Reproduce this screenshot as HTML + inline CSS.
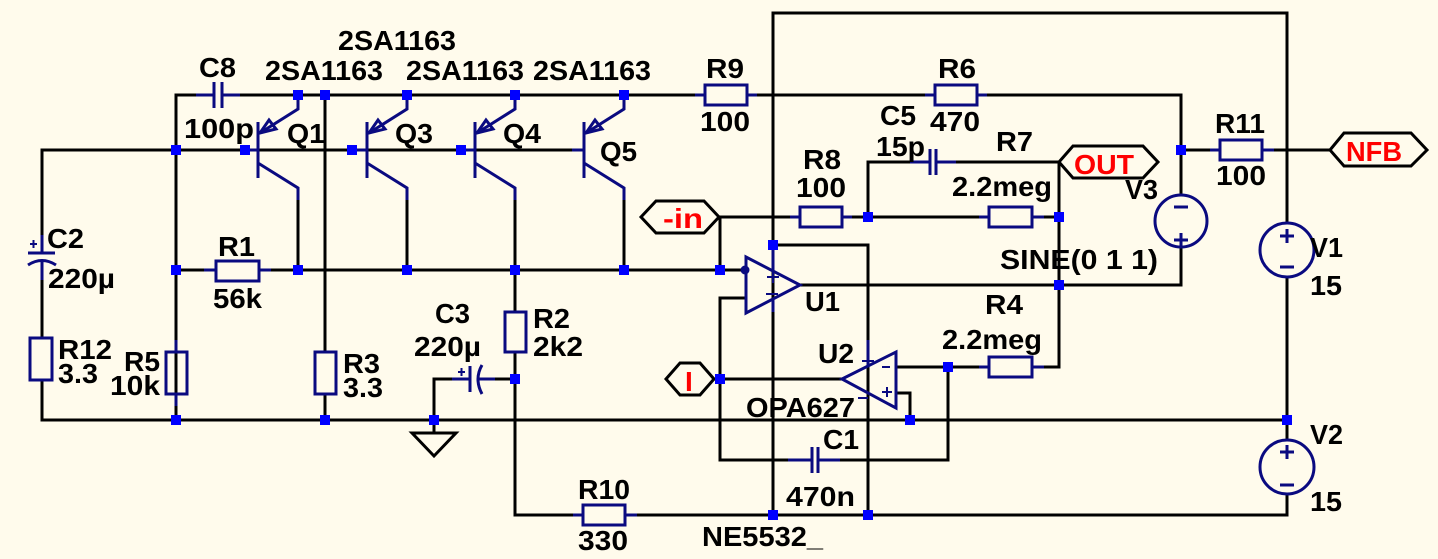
<!DOCTYPE html>
<html><head><meta charset="utf-8"><style>
html,body{margin:0;padding:0;background:#fffbec;}
svg{display:block;}
text{font-family:"Liberation Sans",Arial,sans-serif;font-weight:bold;font-size:28px;fill:#000;}
.r{fill:#ff0000;}
</style></head><body>
<svg width="1438" height="559" viewBox="0 0 1438 559" xmlns="http://www.w3.org/2000/svg">
<rect width="1438" height="559" fill="#fffbec"/>
<g stroke="#000" stroke-width="3" fill="none" stroke-linecap="square">
<polyline points="176,420 176,95 204,95"/>
<polyline points="232,95 705,95"/>
<polyline points="747,95 935,95"/>
<polyline points="977,95 1181,95 1181,195"/>
<polyline points="1181,248 1181,285 800,285"/>
<line x1="1181" y1="150" x2="1219" y2="150"/>
<line x1="1262" y1="150" x2="1330" y2="150"/>
<polyline points="42,235 42,150 572,150"/>
<line x1="42" y1="268" x2="42" y2="338"/>
<polyline points="42,380 42,420 1287,420"/>
<line x1="176" y1="270" x2="204" y2="270"/>
<line x1="270" y1="270" x2="745" y2="270"/>
<line x1="298" y1="200" x2="298" y2="270"/>
<line x1="407" y1="200" x2="407" y2="270"/>
<line x1="515" y1="200" x2="515" y2="312"/>
<line x1="624" y1="200" x2="624" y2="270"/>
<line x1="176" y1="270" x2="176" y2="352"/>
<line x1="325" y1="95" x2="325" y2="352"/>
<line x1="325" y1="394" x2="325" y2="420"/>
<polyline points="515,352 515,515 583,515"/>
<line x1="625" y1="515" x2="1287" y2="515"/>
<polyline points="434,433 434,379 462,379"/>
<line x1="488" y1="379" x2="515" y2="379"/>
<polyline points="773,515 773,13 1287,13 1287,222"/>
<line x1="1287" y1="278" x2="1287" y2="440"/>
<line x1="1287" y1="494" x2="1287" y2="515"/>
<polyline points="773,245 868,245 868,515"/>
<polyline points="719,217 797,217"/>
<line x1="720" y1="217" x2="720" y2="270"/>
<line x1="842" y1="217" x2="989" y2="217"/>
<line x1="1032" y1="217" x2="1059" y2="217"/>
<polyline points="868,217 868,162 924,162"/>
<line x1="942" y1="162" x2="1059" y2="162"/>
<line x1="1059" y1="162" x2="1059" y2="367"/>
<line x1="1032" y1="367" x2="1059" y2="367"/>
<line x1="896" y1="367" x2="989" y2="367"/>
<polyline points="745,298 720,298 720,460 806,460"/>
<polyline points="824,460 948,460 948,367"/>
<line x1="714" y1="379" x2="842" y2="379"/>
<polyline points="896,393 910,393 910,420"/>
</g>
<g stroke="#0a0a80" stroke-width="3" fill="none">
<line x1="196" y1="95" x2="214" y2="95"/><line x1="222" y1="95" x2="240" y2="95"/>
<line x1="214" y1="82" x2="214" y2="108"/><line x1="222" y1="82" x2="222" y2="108"/>
<g id="q">
<line x1="246" y1="150" x2="258" y2="150"/>
<line x1="258" y1="122" x2="258" y2="178"/>
<polyline points="298,95 298,109 260,133"/>
<polygon points="260,133 269,120 276,129"/>
<polyline points="258,163 298,188 298,200"/>
</g>
<use href="#q" x="109"/><use href="#q" x="217"/><use href="#q" x="326"/>
<rect x="705" y="85" width="42" height="20"/><line x1="695" y1="95" x2="705" y2="95"/><line x1="747" y1="95" x2="757" y2="95"/>
<rect x="935" y="85" width="42" height="20"/><line x1="925" y1="95" x2="935" y2="95"/><line x1="977" y1="95" x2="987" y2="95"/>
<rect x="1220" y="140" width="42" height="20"/><line x1="1210" y1="150" x2="1220" y2="150"/><line x1="1262" y1="150" x2="1274" y2="150"/>
<rect x="800" y="207" width="42" height="20"/><line x1="790" y1="217" x2="800" y2="217"/><line x1="842" y1="217" x2="852" y2="217"/>
<rect x="989" y="207" width="43" height="20"/><line x1="979" y1="217" x2="989" y2="217"/><line x1="1032" y1="217" x2="1044" y2="217"/>
<rect x="989" y="357" width="43" height="20"/><line x1="979" y1="367" x2="989" y2="367"/><line x1="1032" y1="367" x2="1044" y2="367"/>
<rect x="216" y="261" width="43" height="20"/><line x1="204" y1="270" x2="216" y2="270"/><line x1="259" y1="270" x2="271" y2="270"/>
<rect x="583" y="505" width="42" height="20"/><line x1="573" y1="515" x2="583" y2="515"/><line x1="625" y1="515" x2="637" y2="515"/>
<rect x="30" y="338" width="22" height="42"/>
<rect x="166" y="352" width="21" height="42"/><line x1="176" y1="340" x2="176" y2="352"/><line x1="176" y1="394" x2="176" y2="406"/>
<rect x="315" y="352" width="21" height="42"/>
<rect x="505" y="312" width="21" height="40"/>
<line x1="28" y1="253" x2="55" y2="253"/><path d="M28,265 Q42,256 56,265"/><line x1="42" y1="235" x2="42" y2="253"/><line x1="42" y1="260" x2="42" y2="280"/>
<line x1="30" y1="244" x2="37" y2="244" stroke-width="2"/><line x1="33.5" y1="240" x2="33.5" y2="248" stroke-width="2"/>
<line x1="470" y1="366" x2="470" y2="392"/><path d="M482,365 Q474,379 482,394"/><line x1="452" y1="379" x2="470" y2="379"/><line x1="478" y1="379" x2="495" y2="379"/>
<line x1="458" y1="372" x2="465" y2="372" stroke-width="2"/><line x1="461.5" y1="368" x2="461.5" y2="376" stroke-width="2"/>
<line x1="910" y1="162" x2="930" y2="162"/><line x1="936" y1="162" x2="956" y2="162"/>
<line x1="930" y1="149" x2="930" y2="175"/><line x1="936" y1="149" x2="936" y2="175"/>
<line x1="788" y1="460" x2="812" y2="460"/><line x1="818" y1="460" x2="840" y2="460"/>
<line x1="812" y1="447" x2="812" y2="473"/><line x1="818" y1="447" x2="818" y2="473"/>
<polygon points="746,257 746,313 800,285"/>
<line x1="773" y1="244" x2="773" y2="272"/><line x1="773" y1="298" x2="773" y2="312"/>
<line x1="767" y1="277" x2="779" y2="277" stroke-width="2"/><line x1="773" y1="271" x2="773" y2="283" stroke-width="2"/>
<line x1="766" y1="294" x2="778" y2="294" stroke-width="2"/>
<circle cx="745" cy="270" r="3" fill="#0a0a80"/>
<polygon points="842,379 896,352 896,408"/>
<line x1="868" y1="340" x2="868" y2="366"/>
<line x1="862" y1="361" x2="874" y2="361" stroke-width="2"/><line x1="868" y1="355" x2="868" y2="367" stroke-width="2"/>
<line x1="858" y1="398" x2="868" y2="398" stroke-width="2"/>
<line x1="882" y1="367" x2="890" y2="367" stroke-width="2"/>
<line x1="882" y1="392" x2="892" y2="392" stroke-width="2"/><line x1="887" y1="387" x2="887" y2="397" stroke-width="2"/>
<circle cx="1181" cy="221" r="26"/>
<line x1="1174" y1="207" x2="1188" y2="207"/>
<line x1="1174" y1="240" x2="1188" y2="240"/><line x1="1181" y1="233" x2="1181" y2="247"/>
<circle cx="1287" cy="250" r="27"/>
<line x1="1280" y1="236" x2="1294" y2="236"/><line x1="1287" y1="229" x2="1287" y2="243"/>
<line x1="1280" y1="267" x2="1294" y2="267"/>
<circle cx="1287" cy="467" r="27"/>
<line x1="1280" y1="452" x2="1294" y2="452"/><line x1="1287" y1="445" x2="1287" y2="459"/>
<line x1="1280" y1="485" x2="1294" y2="485"/>
</g>
<polygon points="412,433 456,433 434,456" fill="none" stroke="#000" stroke-width="3"/>
<g fill="#fffbec" stroke="#000" stroke-width="3">
<polygon points="641,217 656,201 704,201 719,217 704,233 656,233"/>
<polygon points="666,379 680,363 700,363 714,379 700,395 680,395"/>
<polygon points="1059,162 1073,146 1143,146 1158,162 1143,178 1073,178"/>
<polygon points="1330,150 1344,133 1411,133 1427,150 1411,166 1344,166"/>
</g>
<g fill="#0000ff">
<rect x="171" y="145" width="10" height="10"/><rect x="240" y="145" width="10" height="10"/><rect x="347" y="145" width="10" height="10"/><rect x="456" y="145" width="10" height="10"/>
<rect x="293" y="90" width="10" height="10"/><rect x="320" y="90" width="10" height="10"/><rect x="402" y="90" width="10" height="10"/><rect x="510" y="90" width="10" height="10"/><rect x="619" y="90" width="10" height="10"/>
<rect x="171" y="265" width="10" height="10"/><rect x="293" y="265" width="10" height="10"/><rect x="402" y="265" width="10" height="10"/><rect x="510" y="265" width="10" height="10"/><rect x="619" y="265" width="10" height="10"/><rect x="715" y="265" width="10" height="10"/>
<rect x="171" y="415" width="10" height="10"/><rect x="320" y="415" width="10" height="10"/><rect x="429" y="415" width="10" height="10"/><rect x="510" y="374" width="10" height="10"/>
<rect x="905" y="415" width="10" height="10"/><rect x="1282" y="415" width="10" height="10"/>
<rect x="768" y="240" width="10" height="10"/><rect x="863" y="212" width="10" height="10"/><rect x="1054" y="212" width="10" height="10"/><rect x="1054" y="280" width="10" height="10"/>
<rect x="1176" y="145" width="10" height="10"/><rect x="715" y="374" width="10" height="10"/><rect x="943" y="362" width="10" height="10"/>
<rect x="768" y="510" width="10" height="10"/><rect x="863" y="510" width="10" height="10"/>
</g>
<text x="199" y="77" textLength="37" lengthAdjust="spacingAndGlyphs">C8</text>
<text x="184" y="138" textLength="70" lengthAdjust="spacingAndGlyphs">100p</text>
<text x="338" y="50" textLength="118" lengthAdjust="spacingAndGlyphs">2SA1163</text>
<text x="265" y="80" textLength="118" lengthAdjust="spacingAndGlyphs">2SA1163</text>
<text x="406" y="80" textLength="118" lengthAdjust="spacingAndGlyphs">2SA1163</text>
<text x="533" y="80" textLength="118" lengthAdjust="spacingAndGlyphs">2SA1163</text>
<text x="287" y="143" textLength="38" lengthAdjust="spacingAndGlyphs">Q1</text><text x="395" y="143" textLength="38" lengthAdjust="spacingAndGlyphs">Q3</text><text x="503" y="143" textLength="38" lengthAdjust="spacingAndGlyphs">Q4</text><text x="600" y="161" textLength="37" lengthAdjust="spacingAndGlyphs">Q5</text>
<text x="706" y="78" textLength="38" lengthAdjust="spacingAndGlyphs">R9</text><text x="700" y="131" textLength="50" lengthAdjust="spacingAndGlyphs">100</text>
<text x="938" y="78" textLength="38" lengthAdjust="spacingAndGlyphs">R6</text><text x="930" y="131" textLength="50" lengthAdjust="spacingAndGlyphs">470</text>
<text x="880" y="125" textLength="36" lengthAdjust="spacingAndGlyphs">C5</text><text x="876" y="156" textLength="49" lengthAdjust="spacingAndGlyphs">15p</text>
<text x="996" y="151" textLength="37" lengthAdjust="spacingAndGlyphs">R7</text>
<text x="803" y="169" textLength="38" lengthAdjust="spacingAndGlyphs">R8</text><text x="796" y="197" textLength="50" lengthAdjust="spacingAndGlyphs">100</text>
<text x="952" y="196" textLength="100" lengthAdjust="spacingAndGlyphs">2.2meg</text>
<text x="1215" y="133" textLength="50" lengthAdjust="spacingAndGlyphs">R11</text><text x="1216" y="185" textLength="50" lengthAdjust="spacingAndGlyphs">100</text>
<text x="1125" y="199" textLength="33" lengthAdjust="spacingAndGlyphs">V3</text>
<text x="1000" y="269" textLength="158" lengthAdjust="spacingAndGlyphs">SINE(0 1 1)</text>
<text x="1310" y="257" textLength="33" lengthAdjust="spacingAndGlyphs">V1</text><text x="1310" y="295" textLength="32" lengthAdjust="spacingAndGlyphs">15</text>
<text x="1310" y="444" textLength="33" lengthAdjust="spacingAndGlyphs">V2</text><text x="1310" y="511" textLength="32" lengthAdjust="spacingAndGlyphs">15</text>
<text x="47" y="248" textLength="37" lengthAdjust="spacingAndGlyphs">C2</text><text x="48" y="288" textLength="67" lengthAdjust="spacingAndGlyphs">220µ</text>
<text x="218" y="256" textLength="37" lengthAdjust="spacingAndGlyphs">R1</text><text x="213" y="308" textLength="49" lengthAdjust="spacingAndGlyphs">56k</text>
<text x="58" y="359" textLength="54" lengthAdjust="spacingAndGlyphs">R12</text><text x="58" y="383" textLength="40" lengthAdjust="spacingAndGlyphs">3.3</text>
<text x="124" y="371" textLength="36" lengthAdjust="spacingAndGlyphs">R5</text><text x="110" y="395" textLength="50" lengthAdjust="spacingAndGlyphs">10k</text>
<text x="343" y="373" textLength="37" lengthAdjust="spacingAndGlyphs">R3</text><text x="343" y="397" textLength="40" lengthAdjust="spacingAndGlyphs">3.3</text>
<text x="435" y="323" textLength="35" lengthAdjust="spacingAndGlyphs">C3</text><text x="414" y="356" textLength="67" lengthAdjust="spacingAndGlyphs">220µ</text>
<text x="533" y="328" textLength="37" lengthAdjust="spacingAndGlyphs">R2</text><text x="533" y="356" textLength="50" lengthAdjust="spacingAndGlyphs">2k2</text>
<text x="805" y="311" textLength="35" lengthAdjust="spacingAndGlyphs">U1</text>
<text x="985" y="314" textLength="38" lengthAdjust="spacingAndGlyphs">R4</text>
<text x="942" y="349" textLength="100" lengthAdjust="spacingAndGlyphs">2.2meg</text>
<text x="818" y="363" textLength="36" lengthAdjust="spacingAndGlyphs">U2</text>
<text x="746" y="417" textLength="109" lengthAdjust="spacingAndGlyphs">OPA627</text>
<text x="823" y="449" textLength="36" lengthAdjust="spacingAndGlyphs">C1</text><text x="786" y="506" textLength="69" lengthAdjust="spacingAndGlyphs">470n</text>
<text x="578" y="499" textLength="52" lengthAdjust="spacingAndGlyphs">R10</text><text x="578" y="550" textLength="50" lengthAdjust="spacingAndGlyphs">330</text>
<text x="702" y="546" textLength="121" lengthAdjust="spacingAndGlyphs">NE5532_</text>
<text class="r" x="663" y="228" textLength="40" lengthAdjust="spacingAndGlyphs">-in</text>
<text class="r" x="685" y="391">I</text>
<text class="r" x="1074" y="174" textLength="60" lengthAdjust="spacingAndGlyphs">OUT</text>
<text class="r" x="1346" y="161" textLength="56" lengthAdjust="spacingAndGlyphs">NFB</text>
</svg>
</body></html>
